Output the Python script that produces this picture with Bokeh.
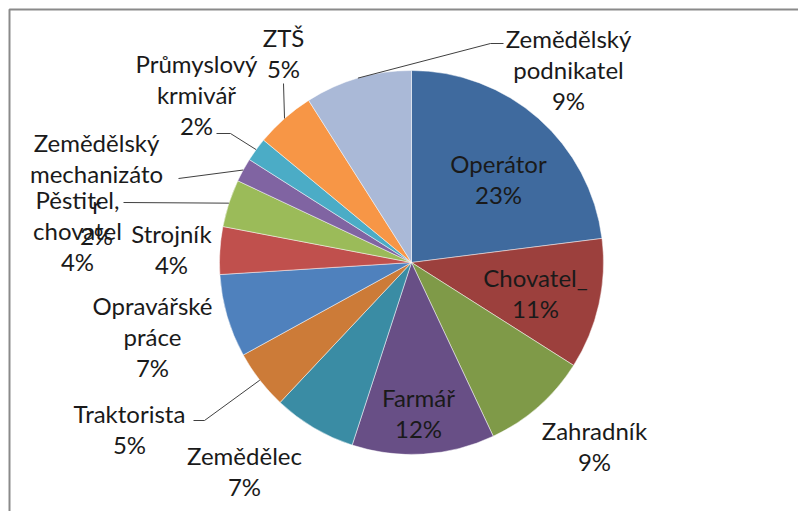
import math
from bokeh.plotting import figure
from bokeh.models import ColumnDataSource, Range1d
from bokeh.core.properties import value
from bokeh.embed import file_html
from bokeh.resources import INLINE

# ---------------- data ----------------
categories = ["Operátor", "Chovatel_", "Zahradník", "Farmář", "Zemědělec",
              "Traktorista", "Opravářské práce", "Strojník", "Pěstitel, chovatel",
              "Zemědělský mechanizátor", "Průmyslový krmivář", "ZTŠ",
              "Zemědělský podnikatel"]
percent = [23, 11, 9, 12, 7, 5, 7, 4, 4, 2, 2, 5, 9]
label_lines = [["Operátor"], ["Chovatel_"], ["Zahradník"], ["Farmář"], ["Zemědělec"],
               ["Traktorista"], ["Opravářské", "práce"], ["Strojník"],
               ["Pěstitel,", "chovatel"], ["Zemědělský", "mechanizáto", "r"],
               ["Průmyslový", "krmivář"], ["ZTŠ"], ["Zemědělský", "podnikatel"]]

# ---------------- style / layout ----------------
colors = ["#3F6A9E", "#9C403D", "#7F9A48", "#684F86", "#3A8CA4", "#CC7B38",
          "#4F81BD", "#C0504D", "#9BBB59", "#8064A2", "#4BACC6", "#F79646",
          "#AAB9D7"]
W, H = 798, 511
OX, OY = 0, 0


def dx(sx):
    return sx - OX


def dy(sy):
    return H - (sy - OY)


CX, CY, R = dx(411), dy(262), 192
LINE_STEP = 31
# first-line centre of each label block (screen px)
label_pos = [(498, 163), (535, 277), (594, 430), (418, 397), (244, 455),
             (129, 413), (152, 305), (171, 233), (77, 199), (96, 142),
             (196, 63), (283, 37), (568, 38)]
# leader elbows (screen px), pie end computed from slice mid angle
leaders = {5: [(193, 420), (204, 420)], 8: [(123, 202)], 9: [(178, 178)],
           10: [(216, 133), (230, 133)], 11: [(283, 83)], 12: [(503, 43), (490, 43)]}

p = figure(width=W, height=H, output_backend="svg", toolbar_location=None,
           x_range=Range1d(0, W), y_range=Range1d(0, H), min_border=0)
p.axis.visible = False
p.grid.visible = False
p.outline_line_color = None
p.background_fill_color = "white"

total = sum(percent)
starts, ends, mids = [], [], []
cum = 0
for v in percent:
    a0 = cum / total
    cum += v
    a1 = cum / total
    starts.append(math.pi / 2 - 2 * math.pi * a0)
    ends.append(math.pi / 2 - 2 * math.pi * a1)
    mids.append(math.pi / 2 - 2 * math.pi * (a0 + a1) / 2)

src = ColumnDataSource(dict(cat=categories, val=percent, start=starts, end=ends, color=colors))
p.wedge(x=CX, y=CY, radius=R, start_angle="start", end_angle="end", direction="clock",
        fill_color="color", line_color="white", line_width=0.8, line_alpha=0.6, source=src)

# frame (top and left edges visible)
p.line(x=[dx(9), dx(9), W + 5], y=[-5, dy(9), dy(9)], line_color="#8A8A8A", line_width=2)

# leader lines
for i, pts in leaders.items():
    xs = [dx(a) for a, b in pts] + [CX + R * math.cos(mids[i])]
    ys = [dy(b) for a, b in pts] + [CY + R * math.sin(mids[i])]
    p.line(x=xs, y=ys, line_color="#404040", line_width=1)

# labels
tx, ty, tt = [], [], []
for i, lines in enumerate(label_lines):
    sx, sy = label_pos[i]
    allines = lines + [f"{percent[i]}%"]
    for k, t in enumerate(allines):
        tx.append(dx(sx))
        ty.append(dy(sy + k * LINE_STEP))
        tt.append(t)
p.text(x=tx, y=ty, text=tt, text_align="center", text_baseline="middle",
       text_font=value("Lato"), text_font_size="24px", text_color="#1A1A1A")

open("out.html", "w").write(file_html(p, INLINE))
